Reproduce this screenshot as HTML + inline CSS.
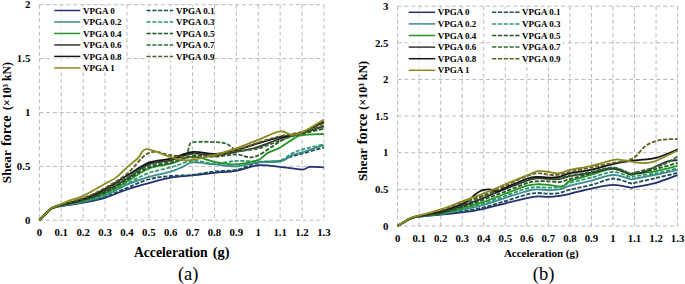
<!DOCTYPE html>
<html><head><meta charset="utf-8"><style>
html,body{margin:0;padding:0;background:#fff;width:685px;height:284px;overflow:hidden}
svg{display:block}
</style></head><body><svg width="685" height="284" viewBox="0 0 685 284" font-family='"Liberation Serif", serif' fill="#000"><g stroke="#bababa" stroke-width="1" stroke-dasharray="4 2.75" fill="none"><line x1="39.40" y1="4.70" x2="39.40" y2="220.20"/><line x1="61.28" y1="4.70" x2="61.28" y2="220.20"/><line x1="83.17" y1="4.70" x2="83.17" y2="220.20"/><line x1="105.05" y1="4.70" x2="105.05" y2="220.20"/><line x1="126.94" y1="4.70" x2="126.94" y2="220.20"/><line x1="148.82" y1="4.70" x2="148.82" y2="220.20"/><line x1="170.71" y1="4.70" x2="170.71" y2="220.20"/><line x1="192.59" y1="4.70" x2="192.59" y2="220.20"/><line x1="214.48" y1="4.70" x2="214.48" y2="220.20"/><line x1="236.36" y1="4.70" x2="236.36" y2="220.20"/><line x1="258.25" y1="4.70" x2="258.25" y2="220.20"/><line x1="280.13" y1="4.70" x2="280.13" y2="220.20"/><line x1="302.02" y1="4.70" x2="302.02" y2="220.20"/><line x1="323.90" y1="4.70" x2="323.90" y2="220.20"/><line x1="39.40" y1="220.20" x2="323.90" y2="220.20" stroke-dasharray="4 2.75"/><line x1="39.40" y1="166.32" x2="323.90" y2="166.32" stroke-dasharray="4 2.75"/><line x1="39.40" y1="112.45" x2="323.90" y2="112.45" stroke-dasharray="4 2.75"/><line x1="39.40" y1="58.57" x2="323.90" y2="58.57" stroke-dasharray="4 2.75"/><line x1="39.40" y1="4.70" x2="323.90" y2="4.70" stroke-dasharray="4 2.75"/></g><g stroke="#bababa" stroke-width="1" stroke-dasharray="4 2.75" fill="none"><line x1="397.60" y1="6.20" x2="397.60" y2="226.00"/><line x1="419.14" y1="6.20" x2="419.14" y2="226.00"/><line x1="440.68" y1="6.20" x2="440.68" y2="226.00"/><line x1="462.22" y1="6.20" x2="462.22" y2="226.00"/><line x1="483.75" y1="6.20" x2="483.75" y2="226.00"/><line x1="505.29" y1="6.20" x2="505.29" y2="226.00"/><line x1="526.83" y1="6.20" x2="526.83" y2="226.00"/><line x1="548.37" y1="6.20" x2="548.37" y2="226.00"/><line x1="569.91" y1="6.20" x2="569.91" y2="226.00"/><line x1="591.45" y1="6.20" x2="591.45" y2="226.00"/><line x1="612.98" y1="6.20" x2="612.98" y2="226.00"/><line x1="634.52" y1="6.20" x2="634.52" y2="226.00"/><line x1="656.06" y1="6.20" x2="656.06" y2="226.00"/><line x1="677.60" y1="6.20" x2="677.60" y2="226.00"/><line x1="397.60" y1="226.00" x2="677.60" y2="226.00" stroke-dasharray="4 2.81"/><line x1="397.60" y1="189.37" x2="677.60" y2="189.37" stroke-dasharray="4 2.81"/><line x1="397.60" y1="152.73" x2="677.60" y2="152.73" stroke-dasharray="4 2.81"/><line x1="397.60" y1="116.10" x2="677.60" y2="116.10" stroke-dasharray="4 2.81"/><line x1="397.60" y1="79.47" x2="677.60" y2="79.47" stroke-dasharray="4 2.81"/><line x1="397.60" y1="42.83" x2="677.60" y2="42.83" stroke-dasharray="4 2.81"/><line x1="397.60" y1="6.20" x2="677.60" y2="6.20" stroke-dasharray="4 2.81"/></g><path d="M39.40,220.20 C40.49,219.09 44.07,215.37 45.97,213.52 C47.86,211.67 49.10,210.18 50.78,209.10 C52.46,208.02 54.28,207.54 56.03,207.05 C57.78,206.57 56.76,206.93 61.28,206.19 C65.81,205.46 75.87,204.04 83.17,202.64 C90.46,201.24 97.76,199.98 105.05,197.79 C112.35,195.60 119.64,191.95 126.94,189.49 C134.23,187.03 141.53,185.02 148.82,183.03 C156.12,181.03 163.41,178.79 170.71,177.53 C178.00,176.27 185.30,176.27 192.59,175.48 C199.89,174.69 207.18,173.56 214.48,172.79 C221.77,172.02 229.07,172.11 236.36,170.85 C243.66,169.59 250.95,165.91 258.25,165.25 C265.54,164.58 272.84,166.15 280.13,166.86 C287.43,167.58 297.09,169.56 302.02,169.56 C306.94,169.56 306.03,167.22 309.68,166.86 C313.32,166.50 321.53,167.31 323.90,167.40" stroke="#22306e" stroke-width="1.8" fill="none" stroke-linejoin="round"/><path d="M39.40,220.20 C40.49,219.09 44.07,215.39 45.97,213.52 C47.86,211.65 49.10,210.09 50.78,208.99 C52.46,207.90 54.28,207.45 56.03,206.95 C57.78,206.44 56.76,206.79 61.28,205.98 C65.81,205.17 75.87,203.64 83.17,202.10 C90.46,200.55 97.76,199.08 105.05,196.71 C112.35,194.34 119.64,190.78 126.94,187.88 C134.23,184.97 141.53,181.23 148.82,179.25 C156.12,177.28 163.41,176.74 170.71,176.02 C178.00,175.30 185.30,175.72 192.59,174.94 C199.89,174.17 207.18,172.23 214.48,171.39 C221.77,170.55 229.07,171.35 236.36,169.88 C243.66,168.41 250.95,164.04 258.25,162.55 C265.54,161.06 274.66,161.93 280.13,160.94 C285.60,159.95 287.43,157.85 291.07,156.63 C294.72,155.41 296.54,155.15 302.02,153.61 C307.49,152.07 320.25,148.40 323.90,147.36" stroke="#1d4d52" stroke-width="1.8" fill="none" stroke-linejoin="round" stroke-dasharray="4.2 1.6"/><path d="M39.40,220.20 C40.49,219.09 44.07,215.39 45.97,213.52 C47.86,211.65 49.10,210.11 50.78,208.99 C52.46,207.88 54.28,207.38 56.03,206.84 C57.78,206.30 56.76,206.62 61.28,205.76 C65.81,204.90 75.87,203.36 83.17,201.67 C90.46,199.98 97.76,198.47 105.05,195.63 C112.35,192.80 119.64,187.77 126.94,184.64 C134.23,181.52 141.53,179.04 148.82,176.88 C156.12,174.73 164.87,173.47 170.71,171.71 C176.54,169.95 180.19,167.87 183.84,166.32 C187.49,164.78 187.49,162.77 192.59,162.45 C197.70,162.12 207.18,163.74 214.48,164.39 C221.77,165.03 229.07,166.68 236.36,166.32 C243.66,165.97 250.95,163.00 258.25,162.23 C265.54,161.46 274.66,162.81 280.13,161.69 C285.60,160.58 287.43,157.11 291.07,155.55 C294.72,153.99 296.54,154.06 302.02,152.32 C307.49,150.58 320.25,146.30 323.90,145.10" stroke="#3a8c8c" stroke-width="1.8" fill="none" stroke-linejoin="round"/><path d="M39.40,220.20 C40.49,219.09 44.07,215.41 45.97,213.52 C47.86,211.63 49.10,210.02 50.78,208.89 C52.46,207.75 54.28,207.29 56.03,206.73 C57.78,206.17 56.76,206.48 61.28,205.55 C65.81,204.61 75.87,202.96 83.17,201.13 C90.46,199.30 97.76,197.48 105.05,194.56 C112.35,191.63 119.64,187.16 126.94,183.56 C134.23,179.97 141.53,175.70 148.82,173.01 C156.12,170.31 163.41,169.41 170.71,167.40 C178.00,165.39 185.30,161.57 192.59,160.94 C199.89,160.31 207.18,163.63 214.48,163.63 C221.77,163.63 229.07,161.30 236.36,160.94 C243.66,160.58 250.95,161.57 258.25,161.48 C265.54,161.39 274.66,161.67 280.13,160.40 C285.60,159.12 287.43,155.64 291.07,153.83 C294.72,152.01 296.54,151.08 302.02,149.52 C307.49,147.95 320.25,145.30 323.90,144.45" stroke="#2f9870" stroke-width="1.8" fill="none" stroke-linejoin="round" stroke-dasharray="4.2 1.6"/><path d="M39.40,220.20 C40.49,219.09 44.07,215.41 45.97,213.52 C47.86,211.63 49.10,210.04 50.78,208.89 C52.46,207.74 54.28,207.22 56.03,206.62 C57.78,206.03 56.76,206.34 61.28,205.33 C65.81,204.32 75.87,202.56 83.17,200.59 C90.46,198.61 97.76,196.67 105.05,193.48 C112.35,190.28 119.64,185.58 126.94,181.41 C134.23,177.24 141.53,171.44 148.82,168.48 C156.12,165.52 163.41,165.61 170.71,163.63 C178.00,161.66 185.30,156.93 192.59,156.63 C199.89,156.32 207.18,160.51 214.48,161.80 C221.77,163.09 229.07,164.71 236.36,164.39 C243.66,164.06 253.14,161.69 258.25,159.86 C263.35,158.03 263.35,155.46 267.00,153.39 C270.65,151.33 275.75,149.89 280.13,147.47 C284.51,145.04 289.61,140.91 293.26,138.85 C296.91,136.78 296.91,135.89 302.02,135.08 C307.12,134.27 320.25,134.18 323.90,134.00" stroke="#249424" stroke-width="1.8" fill="none" stroke-linejoin="round"/><path d="M39.40,220.20 C40.49,219.09 44.07,215.42 45.97,213.52 C47.86,211.62 49.10,209.95 50.78,208.78 C52.46,207.61 54.28,207.13 56.03,206.52 C57.78,205.91 56.76,206.17 61.28,205.11 C65.81,204.06 75.87,202.28 83.17,200.16 C90.46,198.04 97.76,195.79 105.05,192.40 C112.35,189.01 119.64,183.96 126.94,179.79 C134.23,175.63 141.53,170.19 148.82,167.40 C156.12,164.62 163.41,164.98 170.71,163.09 C178.00,161.21 185.30,157.17 192.59,156.09 C199.89,155.01 207.18,156.90 214.48,156.63 C221.77,156.36 229.61,154.47 236.36,154.47 C243.11,154.47 246.94,159.23 254.96,156.63 C262.99,154.02 276.67,142.62 284.51,138.85 C292.35,135.08 295.45,135.71 302.02,134.00 C308.58,132.29 320.25,129.51 323.90,128.61" stroke="#215a21" stroke-width="1.8" fill="none" stroke-linejoin="round" stroke-dasharray="4.2 1.6"/><path d="M39.40,220.20 C40.49,219.09 44.07,215.42 45.97,213.52 C47.86,211.62 49.10,209.96 50.78,208.78 C52.46,207.59 54.28,207.04 56.03,206.41 C57.78,205.78 56.76,206.12 61.28,205.01 C65.81,203.89 75.87,202.04 83.17,199.73 C90.46,197.41 97.76,194.61 105.05,191.11 C112.35,187.61 119.64,183.21 126.94,178.72 C134.23,174.23 141.53,167.24 148.82,164.17 C156.12,161.10 163.41,162.03 170.71,160.29 C178.00,158.55 185.30,154.51 192.59,153.72 C199.89,152.93 207.18,155.86 214.48,155.55 C221.77,155.24 229.07,153.32 236.36,151.89 C243.66,150.45 250.95,149.12 258.25,146.93 C265.54,144.74 272.84,141.08 280.13,138.74 C287.43,136.41 294.72,134.97 302.02,132.92 C309.31,130.88 320.25,127.53 323.90,126.46" stroke="#333333" stroke-width="1.8" fill="none" stroke-linejoin="round"/><path d="M39.40,220.20 C40.49,219.09 44.07,215.42 45.97,213.52 C47.86,211.62 49.10,209.96 50.78,208.78 C52.46,207.59 54.28,207.05 56.03,206.41 C57.78,205.76 56.76,206.07 61.28,204.90 C65.81,203.73 75.87,201.88 83.17,199.40 C90.46,196.93 97.76,193.66 105.05,190.03 C112.35,186.40 119.64,181.68 126.94,177.64 C134.23,173.60 141.53,168.39 148.82,165.79 C156.12,163.18 164.69,163.33 170.71,162.01 C176.73,160.70 182.20,159.00 184.93,157.92 C187.67,156.84 186.36,157.74 187.12,155.55 C187.89,153.36 188.62,146.97 189.53,144.77 C190.44,142.58 190.26,142.91 192.59,142.40 C194.93,141.90 199.89,141.81 203.53,141.76 C207.18,141.70 211.38,141.94 214.48,142.08 C217.58,142.22 219.95,142.26 222.14,142.62 C224.32,142.98 225.97,143.43 227.61,144.24 C229.25,145.04 230.53,146.39 231.98,147.47 C233.44,148.55 231.98,150.54 236.36,150.70 C240.74,150.86 250.95,150.14 258.25,148.44 C265.54,146.73 272.84,143.05 280.13,140.46 C287.43,137.88 294.72,135.44 302.02,132.92 C309.31,130.41 320.25,126.64 323.90,125.38" stroke="#346c34" stroke-width="1.8" fill="none" stroke-linejoin="round" stroke-dasharray="4.2 1.6"/><path d="M39.40,220.20 C40.49,219.09 44.07,215.44 45.97,213.52 C47.86,211.60 49.10,209.87 50.78,208.67 C52.46,207.47 54.28,206.96 56.03,206.30 C57.78,205.64 56.76,205.91 61.28,204.68 C65.81,203.46 75.87,201.60 83.17,198.97 C90.46,196.35 97.76,192.85 105.05,188.95 C112.35,185.06 119.64,179.97 126.94,175.59 C134.23,171.21 141.53,165.48 148.82,162.66 C156.12,159.84 163.41,160.45 170.71,158.67 C178.00,156.90 185.30,152.78 192.59,151.99 C199.89,151.20 207.18,154.24 214.48,153.93 C221.77,153.63 229.07,151.94 236.36,150.16 C243.66,148.38 250.95,145.42 258.25,143.27 C265.54,141.11 272.84,139.05 280.13,137.23 C287.43,135.42 294.72,134.97 302.02,132.38 C309.31,129.80 320.25,123.49 323.90,121.72" stroke="#141414" stroke-width="1.8" fill="none" stroke-linejoin="round"/><path d="M39.40,220.20 C40.49,219.09 44.07,215.44 45.97,213.52 C47.86,211.60 49.10,209.89 50.78,208.67 C52.46,207.45 54.28,206.89 56.03,206.19 C57.78,205.49 56.76,205.82 61.28,204.47 C65.81,203.12 75.87,200.88 83.17,198.11 C90.46,195.35 97.76,191.92 105.05,187.88 C112.35,183.83 119.64,179.70 126.94,173.87 C134.23,168.03 141.53,155.96 148.82,152.86 C156.12,149.75 163.41,154.42 170.71,155.23 C178.00,156.03 185.30,157.65 192.59,157.70 C199.89,157.76 207.18,156.81 214.48,155.55 C221.77,154.29 229.07,152.32 236.36,150.16 C243.66,148.01 250.95,144.95 258.25,142.62 C265.54,140.29 272.84,137.95 280.13,136.15 C287.43,134.36 294.72,134.00 302.02,131.84 C309.31,129.69 320.25,124.66 323.90,123.22" stroke="#615c22" stroke-width="1.8" fill="none" stroke-linejoin="round" stroke-dasharray="4.2 1.6"/><path d="M39.40,220.20 C40.49,219.09 44.07,215.46 45.97,213.52 C47.86,211.58 49.10,209.80 50.78,208.56 C52.46,207.32 54.28,206.84 56.03,206.08 C57.78,205.33 58.95,205.01 61.28,204.04 C63.62,203.07 66.39,201.63 70.04,200.27 C73.69,198.90 77.33,198.60 83.17,195.85 C89.01,193.10 99.58,186.82 105.05,183.78 C110.52,180.75 112.35,180.37 116.00,177.64 C119.64,174.91 123.29,170.63 126.94,167.40 C130.59,164.17 134.60,161.30 137.88,158.24 C141.16,155.19 141.16,149.28 146.63,149.08 C152.11,148.89 163.78,155.17 170.71,157.06 C177.64,158.94 180.92,160.78 188.22,160.40 C195.51,160.02 206.45,156.79 214.48,154.80 C222.50,152.80 229.07,150.93 236.36,148.44 C243.66,145.94 250.95,142.67 258.25,139.82 C265.54,136.96 274.66,132.10 280.13,131.31 C285.60,130.52 287.43,134.90 291.07,135.08 C294.72,135.26 296.54,134.99 302.02,132.38 C307.49,129.78 320.25,121.61 323.90,119.45" stroke="#8a8a22" stroke-width="1.8" fill="none" stroke-linejoin="round"/><path d="M397.60,226.00 C398.68,225.37 402.27,223.23 404.06,222.19 C405.86,221.15 406.75,220.54 408.37,219.77 C409.98,219.00 411.96,218.09 413.75,217.57 C415.55,217.06 414.65,217.18 419.14,216.70 C423.63,216.21 433.50,215.35 440.68,214.64 C447.86,213.94 455.04,213.42 462.22,212.45 C469.39,211.47 476.57,210.31 483.75,208.78 C490.93,207.26 498.11,205.06 505.29,203.29 C512.47,201.52 521.45,199.31 526.83,198.16 C532.22,197.01 534.01,196.61 537.60,196.40 C541.19,196.19 544.78,196.99 548.37,196.91 C551.96,196.84 555.55,196.49 559.14,195.96 C562.73,195.44 564.52,194.98 569.91,193.76 C575.29,192.54 584.27,190.10 591.45,188.63 C598.63,187.17 606.52,185.15 612.98,184.97 C619.45,184.79 626.63,187.17 630.22,187.53 C633.81,187.90 630.22,187.96 634.52,187.17 C638.83,186.37 648.88,184.79 656.06,182.77 C663.24,180.76 674.01,176.36 677.60,175.08" stroke="#22306e" stroke-width="1.8" fill="none" stroke-linejoin="round"/><path d="M397.60,226.00 C398.68,225.37 402.27,223.24 404.06,222.19 C405.86,221.14 406.75,220.48 408.37,219.70 C409.98,218.92 411.96,218.03 413.75,217.50 C415.55,216.98 414.65,217.09 419.14,216.55 C423.63,216.01 433.50,215.14 440.68,214.28 C447.86,213.41 455.04,212.51 462.22,211.35 C469.39,210.19 476.57,209.03 483.75,207.32 C490.93,205.61 498.11,203.23 505.29,201.09 C512.47,198.95 521.45,195.84 526.83,194.50 C532.22,193.15 534.01,193.15 537.60,193.03 C541.19,192.91 544.78,193.76 548.37,193.76 C551.96,193.76 555.55,193.73 559.14,193.03 C562.73,192.33 564.52,190.93 569.91,189.59 C575.29,188.24 584.27,186.78 591.45,184.97 C598.63,183.16 606.52,179.05 612.98,178.74 C619.45,178.44 626.63,182.47 630.22,183.14 C633.81,183.81 630.22,183.63 634.52,182.77 C638.83,181.92 648.88,179.67 656.06,178.01 C663.24,176.35 674.01,173.68 677.60,172.81" stroke="#1d4d52" stroke-width="1.8" fill="none" stroke-linejoin="round" stroke-dasharray="4.2 1.6"/><path d="M397.60,226.00 C398.68,225.37 402.27,223.25 404.06,222.19 C405.86,221.13 406.75,220.42 408.37,219.63 C409.98,218.83 411.96,217.97 413.75,217.43 C415.55,216.89 414.65,216.98 419.14,216.40 C423.63,215.83 433.50,215.07 440.68,213.98 C447.86,212.90 455.04,211.40 462.22,209.88 C469.39,208.37 476.57,206.91 483.75,204.90 C490.93,202.88 498.11,200.09 505.29,197.79 C512.47,195.50 521.45,192.53 526.83,191.13 C532.22,189.72 534.01,189.53 537.60,189.37 C541.19,189.21 544.78,190.17 548.37,190.17 C551.96,190.17 555.55,190.11 559.14,189.37 C562.73,188.62 564.52,187.17 569.91,185.70 C575.29,184.24 584.27,182.38 591.45,180.57 C598.63,178.77 606.52,175.10 612.98,174.86 C619.45,174.62 626.63,178.46 630.22,179.11 C633.81,179.76 630.22,179.48 634.52,178.74 C638.83,178.01 648.88,176.18 656.06,174.71 C663.24,173.25 674.01,170.74 677.60,169.95" stroke="#3a8c8c" stroke-width="1.8" fill="none" stroke-linejoin="round"/><path d="M397.60,226.00 C398.68,225.35 402.27,223.19 404.06,222.12 C405.86,221.04 406.75,220.35 408.37,219.55 C409.98,218.76 411.96,217.89 413.75,217.35 C415.55,216.82 414.65,216.95 419.14,216.33 C423.63,215.71 433.50,214.81 440.68,213.62 C447.86,212.42 455.04,210.87 462.22,209.15 C469.39,207.43 476.57,205.49 483.75,203.29 C490.93,201.09 498.11,198.43 505.29,195.96 C512.47,193.49 521.45,189.95 526.83,188.49 C532.22,187.02 534.01,187.32 537.60,187.17 C541.19,187.02 544.78,187.61 548.37,187.61 C551.96,187.61 555.55,187.97 559.14,187.17 C562.73,186.36 564.52,184.36 569.91,182.77 C575.29,181.19 584.27,179.44 591.45,177.64 C598.63,175.85 606.52,172.12 612.98,172.00 C619.45,171.88 626.63,176.22 630.22,176.91 C633.81,177.61 630.22,176.79 634.52,176.18 C638.83,175.57 648.88,174.59 656.06,173.25 C663.24,171.90 674.01,168.97 677.60,168.12" stroke="#2f9870" stroke-width="1.8" fill="none" stroke-linejoin="round" stroke-dasharray="4.2 1.6"/><path d="M397.60,226.00 C398.68,225.35 402.27,223.20 404.06,222.12 C405.86,221.03 406.75,220.29 408.37,219.48 C409.98,218.67 411.96,217.82 413.75,217.28 C415.55,216.74 414.65,216.93 419.14,216.26 C423.63,215.58 433.50,214.62 440.68,213.25 C447.86,211.88 455.04,209.95 462.22,208.05 C469.39,206.14 476.57,204.20 483.75,201.82 C490.93,199.44 498.11,196.45 505.29,193.76 C512.47,191.08 521.45,187.29 526.83,185.70 C532.22,184.12 534.01,184.36 537.60,184.24 C541.19,184.12 544.17,184.60 548.37,184.97 C552.57,185.34 559.21,187.11 562.80,186.44 C566.39,185.76 565.13,182.89 569.91,180.94 C574.68,178.99 584.27,176.73 591.45,174.71 C598.63,172.70 606.52,168.85 612.98,168.85 C619.45,168.85 626.63,173.86 630.22,174.71 C633.81,175.57 630.22,174.59 634.52,173.98 C638.83,173.37 648.88,172.39 656.06,171.05 C663.24,169.71 674.01,166.78 677.60,165.92" stroke="#249424" stroke-width="1.8" fill="none" stroke-linejoin="round"/><path d="M397.60,226.00 C398.68,225.35 402.27,223.22 404.06,222.12 C405.86,221.02 406.75,220.22 408.37,219.41 C409.98,218.59 411.96,217.75 413.75,217.21 C415.55,216.67 414.65,216.90 419.14,216.18 C423.63,215.46 433.50,214.42 440.68,212.89 C447.86,211.35 455.04,209.16 462.22,206.95 C469.39,204.74 476.57,202.19 483.75,199.62 C490.93,197.06 498.11,194.30 505.29,191.56 C512.47,188.83 521.45,184.92 526.83,183.21 C532.22,181.50 534.01,181.62 537.60,181.31 C541.19,180.99 544.78,181.19 548.37,181.31 C551.96,181.43 555.55,182.41 559.14,182.04 C562.73,181.67 564.52,180.57 569.91,179.11 C575.29,177.64 584.27,174.96 591.45,173.25 C598.63,171.54 606.52,168.67 612.98,168.85 C619.45,169.04 626.63,173.55 630.22,174.35 C633.81,175.14 630.22,174.53 634.52,173.61 C638.83,172.70 648.88,170.62 656.06,168.85 C663.24,167.08 674.01,163.97 677.60,162.99" stroke="#215a21" stroke-width="1.8" fill="none" stroke-linejoin="round" stroke-dasharray="4.2 1.6"/><path d="M397.60,226.00 C398.68,225.34 402.27,223.14 404.06,222.04 C405.86,220.94 406.75,220.22 408.37,219.41 C409.98,218.59 411.96,217.68 413.75,217.13 C415.55,216.59 414.65,216.89 419.14,216.11 C423.63,215.33 433.50,214.16 440.68,212.45 C447.86,210.74 455.04,208.29 462.22,205.85 C469.39,203.41 476.57,200.60 483.75,197.79 C490.93,194.98 498.11,191.87 505.29,189.00 C512.47,186.13 521.45,182.35 526.83,180.57 C532.22,178.80 534.01,178.68 537.60,178.38 C541.19,178.07 544.78,178.62 548.37,178.74 C551.96,178.87 555.55,179.54 559.14,179.11 C562.73,178.68 564.52,177.28 569.91,176.18 C575.29,175.08 584.27,173.86 591.45,172.52 C598.63,171.17 606.52,167.88 612.98,168.12 C619.45,168.36 626.63,173.13 630.22,173.98 C633.81,174.84 632.37,173.49 634.52,173.25 C636.68,173.00 639.55,173.68 643.14,172.52 C646.73,171.36 652.11,168.12 656.06,166.29 C660.01,164.46 663.24,162.56 666.83,161.53 C670.42,160.49 675.81,160.30 677.60,160.06" stroke="#333333" stroke-width="1.8" fill="none" stroke-linejoin="round"/><path d="M397.60,226.00 C398.68,225.34 402.27,223.15 404.06,222.04 C405.86,220.93 406.75,220.16 408.37,219.33 C409.98,218.50 411.96,217.61 413.75,217.06 C415.55,216.51 414.65,216.89 419.14,216.04 C423.63,215.18 433.50,213.81 440.68,211.93 C447.86,210.05 455.04,207.41 462.22,204.75 C469.39,202.09 476.57,198.83 483.75,195.96 C490.93,193.09 498.11,190.22 505.29,187.53 C512.47,184.85 521.45,181.49 526.83,179.84 C532.22,178.19 534.01,177.89 537.60,177.64 C541.19,177.40 544.78,178.25 548.37,178.38 C551.96,178.50 555.55,178.87 559.14,178.38 C562.73,177.89 564.52,176.54 569.91,175.45 C575.29,174.35 584.27,173.13 591.45,171.78 C598.63,170.44 606.52,167.14 612.98,167.39 C619.45,167.63 626.63,172.39 630.22,173.25 C633.81,174.10 630.22,173.55 634.52,172.52 C638.83,171.48 650.68,168.61 656.06,167.02 C661.45,165.43 663.24,164.76 666.83,162.99 C670.42,161.22 675.81,157.50 677.60,156.40" stroke="#346c34" stroke-width="1.8" fill="none" stroke-linejoin="round" stroke-dasharray="4.2 1.6"/><path d="M397.60,226.00 C398.68,225.34 402.27,223.17 404.06,222.04 C405.86,220.92 406.75,220.10 408.37,219.26 C409.98,218.42 411.96,217.54 413.75,216.99 C415.55,216.44 414.65,216.87 419.14,215.96 C423.63,215.06 433.50,213.56 440.68,211.57 C447.86,209.58 457.55,205.89 462.22,204.02 C466.88,202.15 466.52,201.94 468.68,200.36 C470.83,198.77 473.16,196.06 475.14,194.50 C477.11,192.93 478.73,191.80 480.52,190.98 C482.32,190.16 484.11,189.79 485.91,189.59 C487.70,189.38 489.32,189.40 491.29,189.73 C493.27,190.06 495.42,191.87 497.75,191.56 C500.09,191.26 500.45,190.04 505.29,187.90 C510.14,185.76 521.45,180.57 526.83,178.74 C532.22,176.91 534.01,177.09 537.60,176.91 C541.19,176.73 544.78,177.64 548.37,177.64 C551.96,177.64 555.55,177.64 559.14,176.91 C562.73,176.18 564.52,174.47 569.91,173.25 C575.29,172.03 584.27,171.11 591.45,169.58 C598.63,168.06 605.81,165.62 612.98,164.09 C620.16,162.56 627.34,161.46 634.52,160.43 C641.70,159.39 648.88,159.69 656.06,157.86 C663.24,156.03 674.01,150.84 677.60,149.44" stroke="#141414" stroke-width="1.8" fill="none" stroke-linejoin="round"/><path d="M397.60,226.00 C398.68,225.33 402.27,223.11 404.06,221.97 C405.86,220.83 406.75,220.03 408.37,219.19 C409.98,218.34 411.96,217.49 413.75,216.91 C415.55,216.34 414.65,216.82 419.14,215.74 C423.63,214.67 433.50,212.73 440.68,210.47 C447.86,208.21 455.04,204.73 462.22,202.19 C469.39,199.65 476.57,197.98 483.75,195.23 C490.93,192.48 498.11,188.88 505.29,185.70 C512.47,182.53 521.45,178.25 526.83,176.18 C532.22,174.10 534.01,173.49 537.60,173.25 C541.19,173.00 544.78,174.47 548.37,174.71 C551.96,174.96 555.55,175.20 559.14,174.71 C562.73,174.22 564.52,173.00 569.91,171.78 C575.29,170.56 584.27,168.85 591.45,167.39 C598.63,165.92 607.60,164.03 612.98,162.99 C618.37,161.95 620.16,162.07 623.75,161.16 C627.34,160.24 630.93,160.00 634.52,157.50 C638.11,154.99 641.70,148.89 645.29,146.14 C648.88,143.39 652.47,142.15 656.06,141.01 C659.65,139.88 663.24,139.63 666.83,139.33 C670.42,139.02 675.81,139.20 677.60,139.18" stroke="#615c22" stroke-width="1.8" fill="none" stroke-linejoin="round" stroke-dasharray="4.2 1.6"/><path d="M397.60,226.00 C398.68,225.33 402.27,223.12 404.06,221.97 C405.86,220.82 406.75,219.97 408.37,219.11 C409.98,218.26 411.96,217.43 413.75,216.84 C415.55,216.26 414.65,216.83 419.14,215.60 C423.63,214.36 433.50,211.80 440.68,209.44 C447.86,207.08 455.04,204.14 462.22,201.46 C469.39,198.77 476.57,196.19 483.75,193.32 C490.93,190.45 498.11,187.22 505.29,184.24 C512.47,181.26 521.45,177.64 526.83,175.45 C532.22,173.25 534.01,171.62 537.60,171.05 C541.19,170.48 544.78,171.64 548.37,172.00 C551.96,172.37 555.55,173.59 559.14,173.25 C562.73,172.91 564.52,171.17 569.91,169.95 C575.29,168.73 584.27,167.57 591.45,165.92 C598.63,164.27 608.32,161.10 612.98,160.06 C617.65,159.02 615.86,159.33 619.45,159.69 C623.04,160.06 630.22,161.71 634.52,162.26 C638.83,162.81 641.70,163.23 645.29,162.99 C648.88,162.75 650.68,162.87 656.06,160.79 C661.45,158.72 674.01,152.24 677.60,150.54" stroke="#8a8a22" stroke-width="1.8" fill="none" stroke-linejoin="round"/><rect x="53" y="5.6" width="72" height="65.9" fill="#fff" fill-opacity="0.6"/><rect x="145" y="5.6" width="68" height="55.4" fill="#fff" fill-opacity="0.6"/><rect x="407" y="7.2" width="73" height="67.3" fill="#fff" fill-opacity="0.6"/><rect x="490" y="7.2" width="73" height="56.3" fill="#fff" fill-opacity="0.6"/><g font-size="9" font-weight="bold"><line x1="54.2" y1="10.50" x2="80.3" y2="10.50" stroke="#22306e" stroke-width="1.5"/><text x="83.1" y="13.60">VPGA 0</text><line x1="54.2" y1="21.98" x2="80.3" y2="21.98" stroke="#3a8c8c" stroke-width="1.5"/><text x="83.1" y="25.08">VPGA 0.2</text><line x1="54.2" y1="33.46" x2="80.3" y2="33.46" stroke="#249424" stroke-width="1.5"/><text x="83.1" y="36.56">VPGA 0.4</text><line x1="54.2" y1="44.94" x2="80.3" y2="44.94" stroke="#333333" stroke-width="1.5"/><text x="83.1" y="48.04">VPGA 0.6</text><line x1="54.2" y1="56.42" x2="80.3" y2="56.42" stroke="#141414" stroke-width="1.5"/><text x="83.1" y="59.52">VPGA 0.8</text><line x1="54.2" y1="67.90" x2="80.3" y2="67.90" stroke="#8a8a22" stroke-width="1.5"/><text x="83.1" y="71.00">VPGA 1</text><line x1="146.5" y1="10.50" x2="173.2" y2="10.50" stroke="#1d4d52" stroke-width="1.5" stroke-dasharray="4.2 1.6"/><text x="175.9" y="13.60">VPGA 0.1</text><line x1="146.5" y1="21.98" x2="173.2" y2="21.98" stroke="#2f9870" stroke-width="1.5" stroke-dasharray="4.2 1.6"/><text x="175.9" y="25.08">VPGA 0.3</text><line x1="146.5" y1="33.46" x2="173.2" y2="33.46" stroke="#215a21" stroke-width="1.5" stroke-dasharray="4.2 1.6"/><text x="175.9" y="36.56">VPGA 0.5</text><line x1="146.5" y1="44.94" x2="173.2" y2="44.94" stroke="#346c34" stroke-width="1.5" stroke-dasharray="4.2 1.6"/><text x="175.9" y="48.04">VPGA 0.7</text><line x1="146.5" y1="56.42" x2="173.2" y2="56.42" stroke="#615c22" stroke-width="1.5" stroke-dasharray="4.2 1.6"/><text x="175.9" y="59.52">VPGA 0.9</text></g><g font-size="9" font-weight="bold"><line x1="408.7" y1="12.30" x2="435.2" y2="12.30" stroke="#22306e" stroke-width="1.5"/><text x="437.7" y="15.40">VPGA 0</text><line x1="408.7" y1="23.90" x2="435.2" y2="23.90" stroke="#3a8c8c" stroke-width="1.5"/><text x="437.7" y="27.00">VPGA 0.2</text><line x1="408.7" y1="35.50" x2="435.2" y2="35.50" stroke="#249424" stroke-width="1.5"/><text x="437.7" y="38.60">VPGA 0.4</text><line x1="408.7" y1="47.10" x2="435.2" y2="47.10" stroke="#333333" stroke-width="1.5"/><text x="437.7" y="50.20">VPGA 0.6</text><line x1="408.7" y1="58.70" x2="435.2" y2="58.70" stroke="#141414" stroke-width="1.5"/><text x="437.7" y="61.80">VPGA 0.8</text><line x1="408.7" y1="70.30" x2="435.2" y2="70.30" stroke="#8a8a22" stroke-width="1.5"/><text x="437.7" y="73.40">VPGA 1</text><line x1="492.1" y1="12.30" x2="519.5" y2="12.30" stroke="#1d4d52" stroke-width="1.5" stroke-dasharray="4.2 1.6"/><text x="522.1" y="15.40">VPGA 0.1</text><line x1="492.1" y1="23.90" x2="519.5" y2="23.90" stroke="#2f9870" stroke-width="1.5" stroke-dasharray="4.2 1.6"/><text x="522.1" y="27.00">VPGA 0.3</text><line x1="492.1" y1="35.50" x2="519.5" y2="35.50" stroke="#215a21" stroke-width="1.5" stroke-dasharray="4.2 1.6"/><text x="522.1" y="38.60">VPGA 0.5</text><line x1="492.1" y1="47.10" x2="519.5" y2="47.10" stroke="#346c34" stroke-width="1.5" stroke-dasharray="4.2 1.6"/><text x="522.1" y="50.20">VPGA 0.7</text><line x1="492.1" y1="58.70" x2="519.5" y2="58.70" stroke="#615c22" stroke-width="1.5" stroke-dasharray="4.2 1.6"/><text x="522.1" y="61.80">VPGA 0.9</text></g><g font-size="10.8" font-weight="bold"><text x="39.40" y="235.9" text-anchor="middle">0</text><text x="61.28" y="235.9" text-anchor="middle">0.1</text><text x="83.17" y="235.9" text-anchor="middle">0.2</text><text x="105.05" y="235.9" text-anchor="middle">0.3</text><text x="126.94" y="235.9" text-anchor="middle">0.4</text><text x="148.82" y="235.9" text-anchor="middle">0.5</text><text x="170.71" y="235.9" text-anchor="middle">0.6</text><text x="192.59" y="235.9" text-anchor="middle">0.7</text><text x="214.48" y="235.9" text-anchor="middle">0.8</text><text x="236.36" y="235.9" text-anchor="middle">0.9</text><text x="258.25" y="235.9" text-anchor="middle">1</text><text x="280.13" y="235.9" text-anchor="middle">1.1</text><text x="302.02" y="235.9" text-anchor="middle">1.2</text><text x="323.90" y="235.9" text-anchor="middle">1.3</text><text x="30.3" y="223.87" text-anchor="end">0</text><text x="30.3" y="170.00" text-anchor="end">0.5</text><text x="30.3" y="116.12" text-anchor="end">1</text><text x="30.3" y="62.25" text-anchor="end">1.5</text><text x="30.3" y="8.37" text-anchor="end">2</text></g><g font-size="10.8" font-weight="bold"><text x="397.60" y="242.1" text-anchor="middle">0</text><text x="419.14" y="242.1" text-anchor="middle">0.1</text><text x="440.68" y="242.1" text-anchor="middle">0.2</text><text x="462.22" y="242.1" text-anchor="middle">0.3</text><text x="483.75" y="242.1" text-anchor="middle">0.4</text><text x="505.29" y="242.1" text-anchor="middle">0.5</text><text x="526.83" y="242.1" text-anchor="middle">0.6</text><text x="548.37" y="242.1" text-anchor="middle">0.7</text><text x="569.91" y="242.1" text-anchor="middle">0.8</text><text x="591.45" y="242.1" text-anchor="middle">0.9</text><text x="612.98" y="242.1" text-anchor="middle">1</text><text x="634.52" y="242.1" text-anchor="middle">1.1</text><text x="656.06" y="242.1" text-anchor="middle">1.2</text><text x="677.60" y="242.1" text-anchor="middle">1.3</text><text x="388.4" y="229.67" text-anchor="end">0</text><text x="388.4" y="193.04" text-anchor="end">0.5</text><text x="388.4" y="156.41" text-anchor="end">1</text><text x="388.4" y="119.77" text-anchor="end">1.5</text><text x="388.4" y="83.14" text-anchor="end">2</text><text x="388.4" y="46.51" text-anchor="end">2.5</text><text x="388.4" y="9.87" text-anchor="end">3</text></g><g font-weight="bold"><text transform="translate(10.7,183.2) rotate(-90)" font-size="13.2">Shear</text><text transform="translate(10.7,146.05) rotate(-90)" font-size="14.3">force</text><text transform="translate(10.7,109.9) rotate(-90)" font-size="11.8">(×10³ kN)</text></g><g font-weight="bold"><text transform="translate(366.6,181.1) rotate(-90)" font-size="13.2">Shear</text><text transform="translate(366.6,144.25) rotate(-90)" font-size="14.3">force</text><text transform="translate(366.6,109.7) rotate(-90)" font-size="12.0">(×10³ kN)</text></g><text x="133.9" y="256.9" font-size="13.7" font-weight="bold">Acceleration</text><text x="212.8" y="256.9" font-size="14.4" font-weight="bold">(g)</text><text x="541.3" y="256.9" text-anchor="middle" font-size="11" font-weight="bold">Acceleration (g)</text><text x="188.2" y="279.5" text-anchor="middle" font-size="18.5">(a)</text><text x="543.6" y="279.5" text-anchor="middle" font-size="18.5">(b)</text></svg></body></html>
